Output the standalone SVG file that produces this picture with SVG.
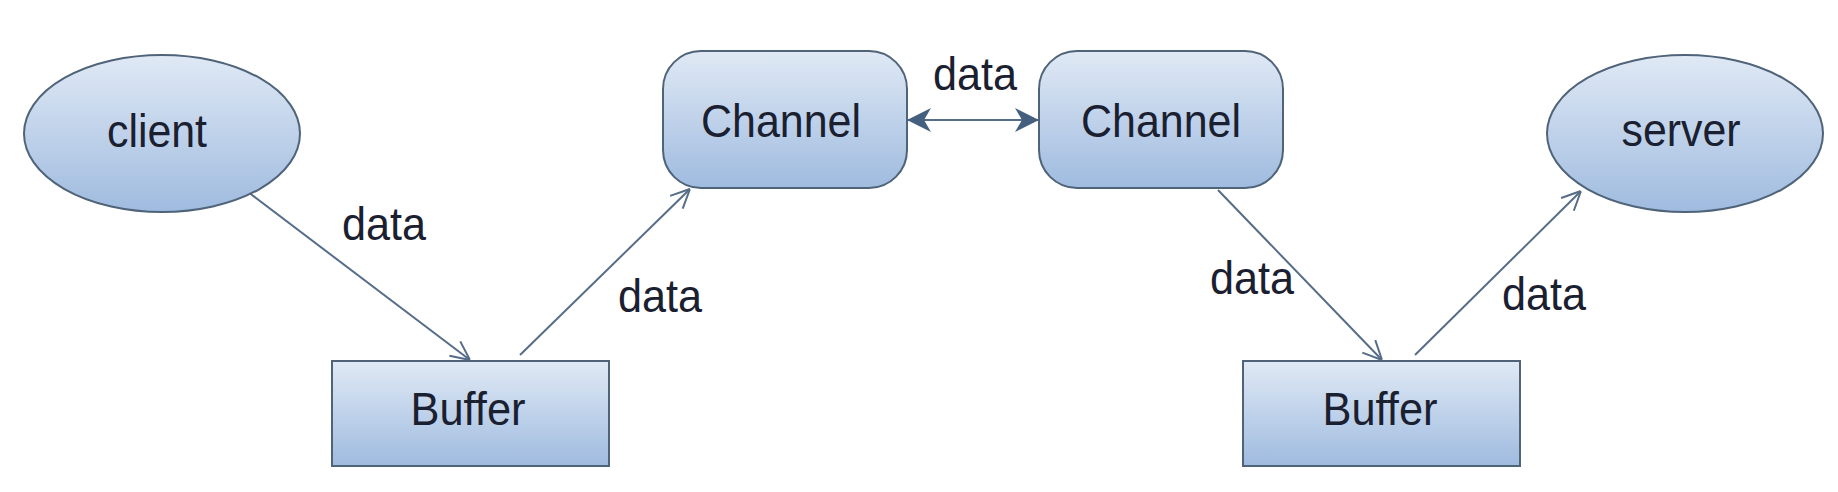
<svg xmlns="http://www.w3.org/2000/svg" width="1838" height="492" viewBox="0 0 1838 492">
<defs>
<linearGradient id="g" x1="0" y1="0" x2="0" y2="1">
<stop offset="0" stop-color="#e0e9f5"/>
<stop offset="1" stop-color="#9fbbdf"/>
</linearGradient>
<marker id="open" viewBox="0 0 20 20" refX="20" refY="10" markerWidth="20" markerHeight="20" markerUnits="userSpaceOnUse" orient="auto">
<path d="M1,1 L20,10 L1,19" fill="none" stroke="#566d88" stroke-width="2"/>
</marker>
<marker id="fillEnd" viewBox="0 0 24 26" refX="23" refY="13" markerWidth="24" markerHeight="26" markerUnits="userSpaceOnUse" orient="auto-start-reverse">
<path d="M0,1 L24,13 L0,25 L7,13 Z" fill="#45607f"/>
</marker>
</defs>
<style>
.shape{fill:url(#g);stroke:#4f6379;stroke-width:2}
.lbl{font-family:"Liberation Sans",Arial,sans-serif;font-size:46px;fill:#1a2030;text-anchor:middle}
.conn{stroke:#566d88;stroke-width:2;fill:none}
</style>
<rect width="1838" height="492" fill="#ffffff"/>
<g id="connectors">
<line class="conn" x1="248" y1="192" x2="470" y2="360" marker-end="url(#open)"/>
<line class="conn" x1="520" y1="355" x2="690" y2="189" marker-end="url(#open)"/>
<line class="conn" x1="908" y1="120" x2="1038" y2="120" stroke="#45607f" stroke-width="3" marker-start="url(#fillEnd)" marker-end="url(#fillEnd)"/>
<line class="conn" x1="1218" y1="190" x2="1382" y2="360" marker-end="url(#open)"/>
<line class="conn" x1="1415" y1="355" x2="1581" y2="191" marker-end="url(#open)"/>
<text class="lbl" x="384" y="240" textLength="84" lengthAdjust="spacingAndGlyphs">data</text>
<text class="lbl" x="660" y="312" textLength="84" lengthAdjust="spacingAndGlyphs">data</text>
<text class="lbl" x="975" y="90" textLength="84" lengthAdjust="spacingAndGlyphs">data</text>
<text class="lbl" x="1252" y="294" textLength="84" lengthAdjust="spacingAndGlyphs">data</text>
<text class="lbl" x="1544" y="310" textLength="84" lengthAdjust="spacingAndGlyphs">data</text>
</g>
<g id="client">
<ellipse class="shape" cx="162" cy="133.5" rx="138" ry="78.5"/>
<text class="lbl" x="157" y="147" textLength="100" lengthAdjust="spacingAndGlyphs">client</text>
</g>
<g id="buffer1">
<rect class="shape" x="332" y="361" width="277" height="105"/>
<text class="lbl" x="468" y="425" textLength="115" lengthAdjust="spacingAndGlyphs">Buffer</text>
</g>
<g id="channel1">
<rect class="shape" x="663" y="51" width="244" height="137" rx="38" ry="38"/>
<text class="lbl" x="781" y="137" textLength="160" lengthAdjust="spacingAndGlyphs">Channel</text>
</g>
<g id="channel2">
<rect class="shape" x="1039" y="51" width="244" height="137" rx="38" ry="38"/>
<text class="lbl" x="1161" y="137" textLength="160" lengthAdjust="spacingAndGlyphs">Channel</text>
</g>
<g id="buffer2">
<rect class="shape" x="1243" y="361" width="277" height="105"/>
<text class="lbl" x="1380" y="425" textLength="115" lengthAdjust="spacingAndGlyphs">Buffer</text>
</g>
<g id="server">
<ellipse class="shape" cx="1685" cy="133.5" rx="138" ry="78.5"/>
<text class="lbl" x="1681" y="146" textLength="119" lengthAdjust="spacingAndGlyphs">server</text>
</g>
</svg>
